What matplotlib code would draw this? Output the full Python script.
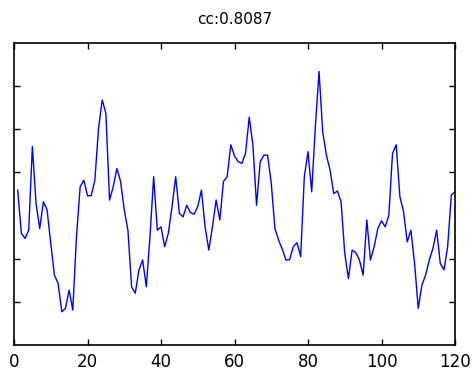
import matplotlib
matplotlib.use('Agg')
import matplotlib.pyplot as plt
import numpy as np

# sample index (1-based, as in the original)
x = np.arange(1, 121)

y = [0.59, -0.41, -0.53, -0.34, 1.60, 0.28, -0.30, 0.32, 0.13, -0.64,
     -1.38, -1.57, -2.23, -2.15, -1.73, -2.19, -0.49, 0.67, 0.82, 0.46,
     0.46, 0.82, 2.02, 2.68, 2.37, 0.36, 0.67, 1.09, 0.79, 0.13,
     -0.34, -1.65, -1.80, -1.26, -1.03, -1.65, -0.49, 0.90, -0.34, -0.26,
     -0.72, -0.41, 0.21, 0.90, 0.05, -0.03, 0.24, 0.07, 0.03, 0.21,
     0.59, -0.26, -0.80, -0.26, 0.36, -0.10, 0.79, 0.90, 1.64, 1.38,
     1.25, 1.21, 1.44, 2.28, 1.64, 0.24, 1.25, 1.40, 1.40, 0.75,
     -0.30, -0.57, -0.78, -1.03, -1.02, -0.72, -0.63, -0.95, 0.90, 1.48,
     0.55, 2.06, 3.34, 1.94, 1.40, 1.06, 0.51, 0.57, 0.32, -0.88,
     -1.46, -0.80, -0.86, -1.03, -1.38, -0.10, -1.03, -0.72, -0.30, -0.12,
     -0.26, 0.01, 1.44, 1.64, 0.44, 0.09, -0.61, -0.34, -1.11, -2.15,
     -1.61, -1.38, -1.03, -0.76, -0.34, -1.11, -1.26, -0.72, 0.48, 0.55]

xticks = [0, 20, 40, 60, 80, 100, 120]
yticks = [-2, -1, 1, 2, 3]

fig = plt.figure(figsize=(4.72, 3.77), dpi=100)
ax = fig.add_axes([14/472, 32/377, 441/472, 302/377])

ax.plot(x, y, color='blue', linewidth=1.0)

ax.set_xlim(0, 120)
ax.set_ylim(-3, 4)
ax.set_xticks(xticks)
ax.set_yticks(yticks)
ax.set_yticklabels([])
ax.tick_params(direction='in', length=4, width=1, top=True, right=True,
               labelsize=12, pad=6)
for s in ax.spines.values():
    s.set_linewidth(1.2)

fig.text(0.5, 17/377, '', ha='center')
ax.set_title('cc:0.8087', fontsize=11, pad=14)

fig.savefig('out.png', dpi=100)
